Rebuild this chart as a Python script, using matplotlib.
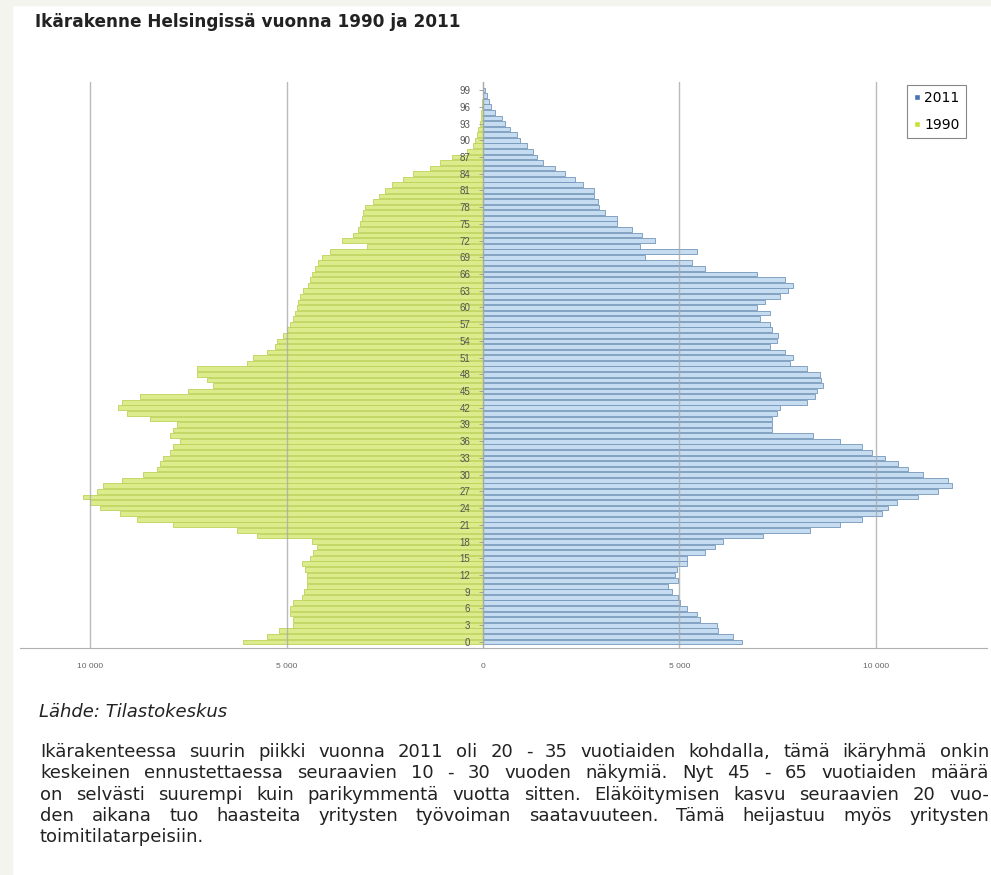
import matplotlib.pyplot as plt
from matplotlib.lines import Line2D
from matplotlib.ticker import FuncFormatter

# ikä 0..99
ages = list(range(100))

# väestö 2011 (oikea puoli)
pop_2011 = [6590, 6360, 5980, 5950, 5520, 5450, 5190, 5010, 4960, 4810,
            4710, 4960, 4890, 4940, 5190, 5190, 5650, 5900, 6110, 7130,
            8320, 9090, 9640, 10150, 10310, 10530, 11070, 11580, 11930, 11830,
            11200, 10810, 10560, 10230, 9900, 9640, 9090, 8400, 7350, 7350,
            7350, 7480, 7560, 8250, 8450, 8500, 8650, 8600, 8580, 8250,
            7810, 7890, 7690, 7300, 7480, 7510, 7350, 7300, 7050, 7300,
            6970, 7180, 7560, 7760, 7890, 7690, 6970, 5650, 5320, 4120,
            5450, 4000, 4380, 4040, 3790, 3400, 3400, 3100, 2950, 2930,
            2830, 2830, 2550, 2340, 2100, 1830, 1540, 1370, 1280, 1110,
            940, 860, 700, 560, 480, 300, 200, 150, 100, 60]

# väestö 1990 (vasen puoli)
pop_1990 = [6100, 5500, 5200, 4830, 4830, 4910, 4910, 4830, 4610, 4550,
            4480, 4480, 4480, 4530, 4610, 4400, 4320, 4230, 4350, 5750,
            6260, 7890, 8810, 9240, 9750, 10000, 10180, 9830, 9670, 9200,
            8650, 8300, 8220, 8140, 7960, 7900, 7710, 7960, 7900, 7790,
            8475, 9060, 9290, 9200, 8730, 7500, 6870, 7020, 7280, 7280,
            6000, 5850, 5500, 5300, 5240, 5090, 4990, 4910, 4830, 4780,
            4740, 4700, 4660, 4580, 4450, 4400, 4350, 4280, 4200, 4100,
            3900, 2950, 3590, 3300, 3180, 3130, 3080, 3050, 3000, 2800,
            2650, 2500, 2320, 2030, 1780, 1350, 1100, 790, 410, 250,
            200, 150, 120, 80, 60, 40, 30, 20, 10, 5]

age_ticks = list(range(0, 100, 3))
x_ticks = [-10000, -5000, 0, 5000, 10000]

title = "Ikärakenne Helsingissä vuonna 1990 ja 2011"
source = "Lähde: Tilastokeskus"
paragraph = [
    "Ikärakenteessa suurin piikki vuonna 2011 oli 20 - 35 vuotiaiden kohdalla, tämä ikäryhmä onkin",
    "keskeinen ennustettaessa seuraavien 10 - 30 vuoden näkymiä. Nyt 45 - 65 vuotiaiden määrä",
    "on selvästi suurempi kuin parikymmentä vuotta sitten. Eläköitymisen kasvu seuraavien 20 vuo-",
    "den aikana tuo haasteita yritysten työvoiman saatavuuteen. Tämä heijastuu myös yritysten",
    "toimitilatarpeisiin.",
]

plt.rcParams['font.family'] = ['Liberation Sans', 'DejaVu Sans']
txt_font = ['DejaVu Sans']

W, H = 991, 875
fig = plt.figure(figsize=(W / 100, H / 100), dpi=100)
fig.patch.set_facecolor('white')
# harmaa reunus vasemmalla ja ylhäällä
fig.add_artist(plt.Rectangle((0, 0), 12 / W, 1, transform=fig.transFigure, color='#f4f4ee', zorder=0))
fig.add_artist(plt.Rectangle((0, 1 - 5 / H), 1, 5 / H, transform=fig.transFigure, color='#f4f4ee', zorder=0))

ax = fig.add_axes([20 / W, 1 - 648 / H, 967 / W, 566 / H])
ax.barh(ages, pop_2011, height=0.85, color='#c6dcf0', edgecolor='#7496bb', linewidth=0.6, zorder=2)
ax.barh(ages, [-v for v in pop_1990], height=0.85, color='#dcec8c', edgecolor='#bcd258', linewidth=0.6, zorder=2)

ax.set_xlim(-11785, 12830)
ax.set_ylim(-1.1, 100.45)
ax.set_xticks(x_ticks)
ax.xaxis.set_major_formatter(FuncFormatter(lambda v, p: f"{abs(int(v)):,}".replace(",", " ")))
ax.grid(axis='x', color='#aaaaaa', linewidth=1, alpha=0.8)
ax.set_axisbelow(False)

for s in ['top', 'right']:
    ax.spines[s].set_visible(False)
ax.spines['bottom'].set_color('#b0b0b0')
ax.spines['left'].set_position(('data', 0))
ax.spines['left'].set_color('#98a69a')
ax.tick_params(axis='x', length=0, pad=11, labelsize=6, labelcolor='#666666')
ax.set_yticks(age_ticks)
ax.tick_params(axis='y', length=3, width=0.6, color='#999999', pad=6, labelsize=7, labelcolor='#555555')

legend_elements = [
    Line2D([0], [0], marker='s', color='w', markerfacecolor='#4a72b8', markersize=5, label='2011'),
    Line2D([0], [0], marker='s', color='w', markerfacecolor='#c8e03a', markersize=5, label='1990'),
]
leg = ax.legend(handles=legend_elements, loc='upper right', bbox_to_anchor=(973 / W, 1 - 78 / H),
                bbox_transform=fig.transFigure, prop={'family': txt_font, 'size': 10},
                handlelength=0.6, handletextpad=0.2, borderpad=0.45, labelspacing=0.9,
                fancybox=False, framealpha=1)
leg.get_frame().set_edgecolor('#888888')
leg.get_frame().set_linewidth(0.8)

fig.text(35 / W, 1 - 22 / H, title, fontsize=12.2, fontweight='bold', color='#222222',
         va='center', family=txt_font)
fig.text(39 / W, 1 - 712 / H, source, fontsize=13, style='italic', color='#222222',
         va='center', family=txt_font)

# tasattu kappale: sanat sijoitetaan niin, että rivi ulottuu reunaan
renderer = fig.canvas.get_renderer()
left_px, right_px = 40, 989
line_y = [752, 773, 795, 816, 837]
for i, line in enumerate(paragraph):
    y = 1 - line_y[i] / H
    words = line.split(" ")
    if i == len(paragraph) - 1:
        fig.text(left_px / W, y, line, fontsize=13, color='#222222', va='center', family=txt_font)
        continue
    texts = [fig.text(0, y, w, fontsize=13, color='#222222', va='center', family=txt_font)
             for w in words]
    widths = [t.get_window_extent(renderer).width for t in texts]
    gap = (right_px - left_px - sum(widths)) / (len(words) - 1)
    x = left_px
    for t, w in zip(texts, widths):
        t.set_x(x / W)
        x += w + gap

fig.savefig("out.png", dpi=100)
